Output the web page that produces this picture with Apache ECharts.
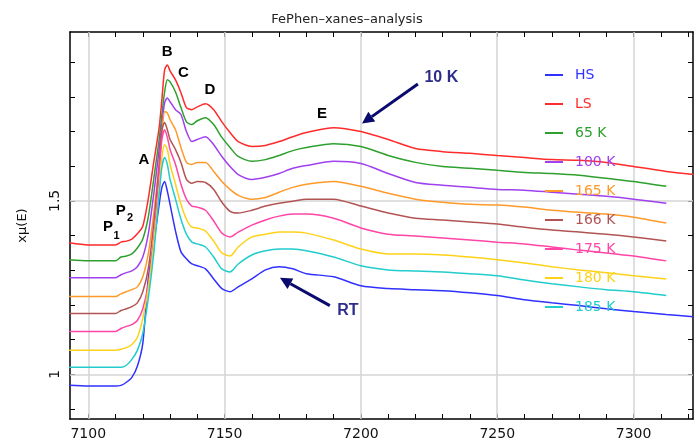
<!DOCTYPE html>
<html><head><meta charset="utf-8">
<script src="https://cdn.jsdelivr.net/npm/echarts@6/dist/echarts.min.js"></script>
<style>html,body{margin:0;padding:0;background:#fff}#c{width:694px;height:441px}</style>
</head><body><div id="c"></div>
<script>
const energy = [7093,7100,7106,7110,7112,7114,7116,7118,7120,7122,7124,7126,7127,7128,7129,7130,7132,7134,7136,7138,7140,7143,7146,7149,7152,7155,7160,7165,7170,7175,7180,7190,7200,7210,7220,7230,7240,7250,7260,7270,7280,7290,7300,7312,7322];

const seriesNames = ['HS','LS','65 K','100 K','165 K','166 K','175 K','180 K','185 K'];

const muHS = [0.968,0.966,0.966,0.966,0.968,0.977,0.991,1.023,1.089,1.275,1.376,1.490,1.539,1.556,1.528,1.490,1.413,1.353,1.333,1.318,1.313,1.304,1.275,1.247,1.238,1.252,1.275,1.301,1.310,1.304,1.290,1.281,1.255,1.247,1.244,1.241,1.235,1.227,1.215,1.206,1.198,1.189,1.181,1.172,1.166];
const muLS = [1.379,1.373,1.373,1.373,1.381,1.384,1.390,1.405,1.427,1.505,1.611,1.711,1.792,1.878,1.892,1.875,1.849,1.812,1.769,1.763,1.771,1.780,1.763,1.728,1.697,1.671,1.657,1.660,1.671,1.685,1.697,1.711,1.700,1.677,1.651,1.642,1.637,1.631,1.625,1.619,1.617,1.611,1.599,1.585,1.576];
const mu65K = [1.330,1.327,1.327,1.327,1.338,1.341,1.347,1.364,1.390,1.453,1.562,1.677,1.749,1.814,1.849,1.843,1.814,1.769,1.728,1.720,1.731,1.740,1.720,1.683,1.654,1.628,1.614,1.619,1.631,1.645,1.654,1.665,1.657,1.631,1.611,1.599,1.594,1.588,1.582,1.579,1.574,1.565,1.556,1.542,null];
const mu100K = [1.278,1.278,1.278,1.278,1.287,1.293,1.298,1.310,1.338,1.404,1.519,1.648,1.720,1.783,1.797,1.786,1.763,1.749,1.700,1.671,1.677,1.685,1.662,1.628,1.599,1.576,1.562,1.568,1.579,1.594,1.602,1.614,1.608,1.579,1.553,1.545,1.539,1.533,1.531,1.525,1.519,1.513,1.505,1.493,null];
const mu165K = [1.224,1.224,1.224,1.224,1.232,1.238,1.244,1.252,1.281,1.347,1.462,1.605,1.691,1.757,1.754,1.734,1.705,1.654,1.611,1.605,1.611,1.611,1.585,1.556,1.533,1.516,1.505,1.510,1.525,1.539,1.548,1.556,1.542,1.522,1.505,1.496,1.490,1.488,1.482,1.473,1.467,1.462,1.453,1.436,null];
const mu166K = [1.175,1.175,1.175,1.175,1.184,1.189,1.195,1.206,1.238,1.304,1.433,1.605,1.705,1.726,1.705,1.677,1.648,1.611,1.562,1.551,1.556,1.553,1.533,1.496,1.470,1.465,1.473,1.485,1.493,1.499,1.505,1.505,1.485,1.465,1.450,1.445,1.439,1.433,1.424,1.416,1.410,1.404,1.396,1.384,null];
const mu175K = [1.123,1.123,1.123,1.123,1.132,1.138,1.143,1.155,1.189,1.261,1.390,1.576,1.677,1.705,1.683,1.648,1.605,1.548,1.505,1.485,1.482,1.473,1.442,1.407,1.396,1.410,1.430,1.445,1.456,1.462,1.462,1.450,1.422,1.404,1.399,1.393,1.387,1.381,1.376,1.367,1.358,1.350,1.341,1.327,null];
const mu180K = [1.069,1.069,1.069,1.069,1.072,1.077,1.086,1.106,1.161,1.247,1.376,1.533,1.625,1.662,1.648,1.605,1.548,1.490,1.447,1.424,1.422,1.413,1.384,1.350,1.341,1.367,1.396,1.404,1.410,1.410,1.407,1.387,1.361,1.347,1.347,1.344,1.338,1.330,1.321,1.310,1.301,1.293,1.284,1.275,null];
const mu185K = [1.020,1.020,1.020,1.020,1.020,1.026,1.043,1.069,1.118,1.218,1.347,1.519,1.597,1.625,1.605,1.562,1.505,1.447,1.404,1.381,1.376,1.367,1.338,1.304,1.295,1.318,1.344,1.356,1.361,1.361,1.356,1.338,1.313,1.301,1.298,1.295,1.290,1.284,1.272,1.261,1.252,1.244,1.238,1.227,null];

const xTickValues = [7100,7110,7120,7130,7140,7150,7160,7170,7180,7190,7200,7210,7220,7230,7240,7250,7260,7270,7280,7290,7300,7310,7320];
const xLabelValues = [7100,7150,7200,7250,7300];
const yTickValues = [0.9,1.0,1.1,1.2,1.3,1.4,1.5,1.6,1.7,1.8,1.9];
const yLabelValues = [1,1.5];

const annotationTexts = [
  {text:'B', at:[7128.9,1.929]},
  {text:'C', at:[7134.9,1.869]},
  {text:'D', at:[7144.6,1.820]},
  {text:'E', at:[7185.7,1.751]},
  {text:'A', at:[7120.4,1.619]},
  {text:'P', at:[7107.2,1.424]},
  {text:'P', at:[7111.9,1.470]}
];
const annotationSubs = [
  {text:'1', at:[7110.4,1.400]},
  {text:'2', at:[7115.3,1.452]}
];
const callouts = [
  {text:'10 K', at:[7229.5,1.855], from:[7220.9,1.837], to:[7200.4,1.723]},
  {text:'RT', at:[7195.2,1.184], from:[7188.6,1.198], to:[7170.3,1.278]}
];

const colors = {'HS':'#3030ff','LS':'#ff2a2a','65 K':'#2ea02e','100 K':'#a040ee','165 K':'#ff9a2a','166 K':'#b35454','175 K':'#ff45a6','180 K':'#ffd21a','185 K':'#22cccc'};
const dataMap = {'HS':muHS,'LS':muLS,'65 K':mu65K,'100 K':mu100K,'165 K':mu165K,'166 K':mu166K,'175 K':mu175K,'180 K':mu180K,'185 K':mu185K};

const chart = echarts.init(document.getElementById('c'), null, {renderer:'canvas'});
const X_MIN = 7093.3, X_MAX = 7321.8, Y_MIN = 0.871, Y_MAX = 1.987;
const fontF = 'DejaVu Sans';

function mkX(pos, showLabel){
  return {type:'value', position:pos, min:X_MIN, max:X_MAX,
    axisLine:{show:true, onZero:false, lineStyle:{color:'#000', width:1.5}},
    axisTick:{show:true, inside:true, length:5, customValues:xTickValues, lineStyle:{color:'#000', width:1}},
    axisLabel:{show:showLabel, customValues:xLabelValues, formatter:v=>String(v), fontSize:14, color:'#111', margin:8, fontFamily:fontF},
    splitLine:{show:false}};
}
function mkY(pos, showLabel){
  return {type:'value', position:pos, min:Y_MIN, max:Y_MAX,
    name: showLabel ? 'xμ(E)' : '', nameLocation:'middle', nameGap:41, nameRotate:90,
    nameTextStyle:{fontSize:13, color:'#111', fontFamily:fontF},
    axisLine:{show:true, onZero:false, lineStyle:{color:'#000', width:1.5}},
    axisTick:{show:true, inside:true, length:5, customValues:yTickValues, lineStyle:{color:'#000', width:1}},
    axisLabel:{show:showLabel, customValues:yLabelValues, formatter:v=>String(v), rotate:90, fontSize:14, color:'#111', margin:8, fontFamily:fontF},
    splitLine:{show:false}};
}

const series = seriesNames.map((n,i)=>({
  name:n, type:'line', showSymbol:false, symbol:'none', silent:true,
  smooth:0.25,
  data: energy.map((e,k)=>[e, dataMap[n][k]]),
  lineStyle:{color:colors[n], width:1.5}, itemStyle:{color:colors[n]},
  z: 3
}));
series[0].markLine = {silent:true, symbol:'none', label:{show:false}, z:1,
  lineStyle:{color:'#d4d4d4', width:1.5, type:'solid'},
  data: xLabelValues.map(v=>({xAxis:v})).concat(yLabelValues.map(v=>({yAxis:v})))};

chart.setOption({
  animation:false,
  backgroundColor:'#fff',
  title:{text:'FePhen–xanes–analysis', left:'center', top:8, textStyle:{fontSize:13, fontWeight:'normal', color:'#222', fontFamily:fontF}},
  grid:{left:70, right:1, top:32, bottom:20, containLabel:false},
  xAxis:[mkX('bottom', true), mkX('top', false)],
  yAxis:[mkY('left', true), mkY('right', false)],
  legend:{orient:'vertical', left:540, top:62, itemWidth:18, itemHeight:2, icon:'rect', itemGap:13, selectedMode:false,
    data: seriesNames.map(n=>({name:n, textStyle:{color:colors[n]}})),
    textStyle:{fontSize:14, fontFamily:fontF, padding:[0,0,0,7], lineHeight:16}},
  series: series
});

// annotations positioned from data coordinates
const g = [];
const toPx = p => chart.convertToPixel({xAxisIndex:0, yAxisIndex:0}, p);
annotationTexts.forEach(a=>{
  const p = toPx(a.at);
  g.push({type:'text', x:p[0], y:p[1], style:{text:a.text, fill:'#000', font:'bold 15px "Liberation Sans", Arial, sans-serif', textAlign:'center', textVerticalAlign:'middle'}, z:10});
});
annotationSubs.forEach(a=>{
  const p = toPx(a.at);
  g.push({type:'text', x:p[0], y:p[1], style:{text:a.text, fill:'#000', font:'bold 11px "Liberation Sans", Arial, sans-serif', textAlign:'center', textVerticalAlign:'middle'}, z:10});
});
callouts.forEach(c=>{
  const t = toPx(c.at), a = toPx(c.from), b = toPx(c.to);
  g.push({type:'text', x:t[0], y:t[1], style:{text:c.text, fill:'#2e2e8a', font:'bold 16px "Liberation Sans", Arial, sans-serif', textAlign:'center', textVerticalAlign:'middle'}, z:10});
  const dx = b[0]-a[0], dy = b[1]-a[1], L = Math.hypot(dx,dy), ux = dx/L, uy = dy/L;
  const hl = 12, hw = 6;
  const bx = b[0]-ux*hl, by = b[1]-uy*hl;
  g.push({type:'line', shape:{x1:a[0], y1:a[1], x2:bx, y2:by}, style:{stroke:'#0a0a6e', lineWidth:3}, z:10});
  g.push({type:'polygon', shape:{points:[[b[0],b[1]],[bx-uy*hw, by+ux*hw],[bx+uy*hw, by-ux*hw]]}, style:{fill:'#0a0a6e'}, z:10});
});
chart.setOption({graphic: g});
</script>
</body></html>
